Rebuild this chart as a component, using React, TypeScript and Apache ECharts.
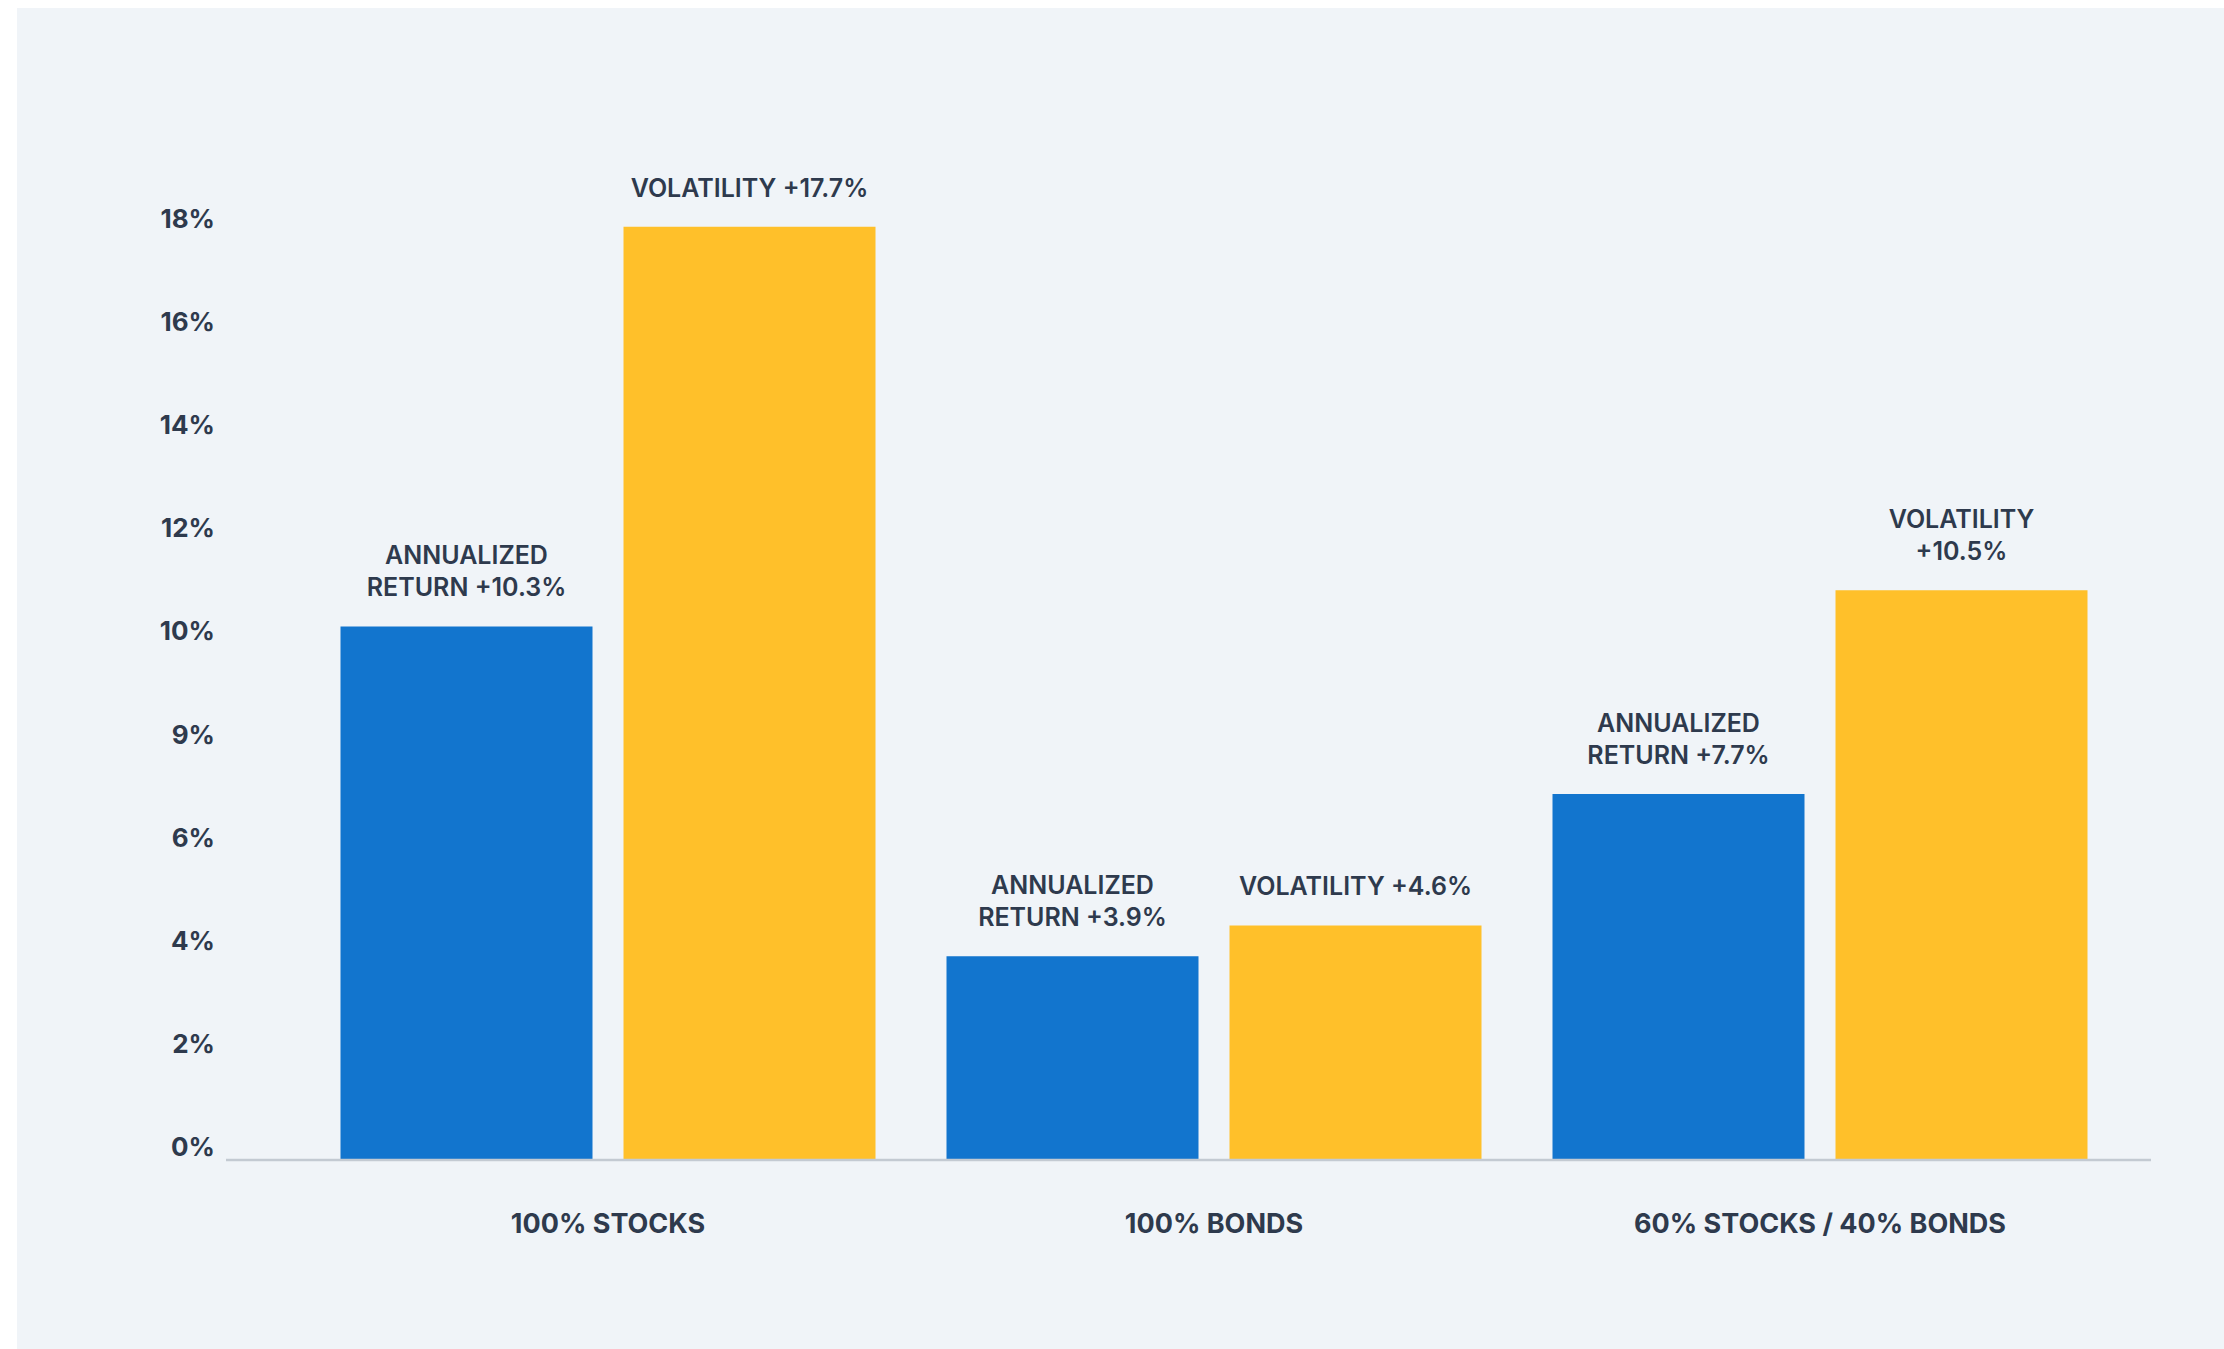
import React, { useEffect, useRef } from "react";
import * as echarts from "echarts";

const categories = ["100% STOCKS", "100% BONDS", "60% STOCKS / 40% BONDS"];
const returnValues = [10.35, 3.95, 7.1];
const volatilityValues = [18.1, 4.55, 11.05];
const returnLabels = [
  "ANNUALIZED\nRETURN +10.3%",
  "ANNUALIZED\nRETURN +3.9%",
  "ANNUALIZED\nRETURN +7.7%",
];
const volatilityLabels = [
  "VOLATILITY +17.7%",
  "VOLATILITY +4.6%",
  "VOLATILITY\n+10.5%",
];
const yTickLabels = ["0%", "2%", "4%", "6%", "9%", "10%", "12%", "14%", "16%", "18%"];

const TEXT = "#2E3A4D";
const BLUE = "#1275CE";
const YELLOW = "#FFC02A";
const PANEL = "#F0F4F8";
const FONT = "Inter, 'Noto Sans', sans-serif";

export default function App() {
  const ref = useRef<HTMLDivElement>(null);

  useEffect(() => {
    if (!ref.current) return;
    const chart = echarts.init(ref.current, undefined, { renderer: "svg" });
    const barLabel = (labels: string[]) => ({
      show: true,
      position: "top",
      distance: 23,
      formatter: (p: any) => labels[p.dataIndex],
      color: TEXT,
      fontFamily: FONT,
      fontSize: 25,
      fontWeight: 600,
      lineHeight: 32,
      align: "center",
    });
    chart.setOption({
      animation: false,
      backgroundColor: "transparent",
      grid: { left: 305, right: 101, top: 232, bottom: 189, containLabel: false },
      xAxis: {
        type: "category",
        data: categories,
        axisLine: { show: false },
        axisTick: { show: false },
        axisLabel: {
          margin: 50,
          color: TEXT,
          fontFamily: FONT,
          fontSize: 27,
          fontWeight: 700,
        },
      },
      yAxis: {
        type: "value",
        min: 0,
        max: 18,
        interval: 2,
        splitLine: { show: false },
        axisLine: { show: false },
        axisTick: { show: false },
        axisLabel: {
          margin: 90,
          color: TEXT,
          fontFamily: FONT,
          fontSize: 26,
          fontWeight: 700,
          verticalAlign: "bottom",
          lineHeight: 27,
          formatter: (v: number) => yTickLabels[Math.round(v / 2)] ?? "",
        },
      },
      series: [
        {
          name: "Annualized return",
          type: "bar",
          data: returnValues,
          barWidth: 252,
          barGap: "12.3%",
          clip: false,
          itemStyle: { color: BLUE },
          label: barLabel(returnLabels),
        },
        {
          name: "Volatility",
          type: "bar",
          data: volatilityValues,
          barWidth: 252,
          barGap: "12.3%",
          clip: false,
          itemStyle: { color: YELLOW },
          label: barLabel(volatilityLabels),
        },
      ],
      graphic: [
        {
          type: "line",
          z: 100,
          shape: { x1: 226, y1: 1160, x2: 2151, y2: 1160 },
          style: { stroke: "#C3CAD2", lineWidth: 2.5 },
        },
      ],
    });
    return () => chart.dispose();
  }, []);

  return (
    <div style={{ position: "absolute", left: 0, top: 0, width: 2224, height: 1349, background: "#FFFFFF" }}>
      <div style={{ position: "absolute", left: 17, top: 8, right: 0, bottom: 0, background: PANEL }} />
      <div ref={ref} style={{ position: "absolute", left: 0, top: 0, width: 2224, height: 1349 }} />
    </div>
  );
}
